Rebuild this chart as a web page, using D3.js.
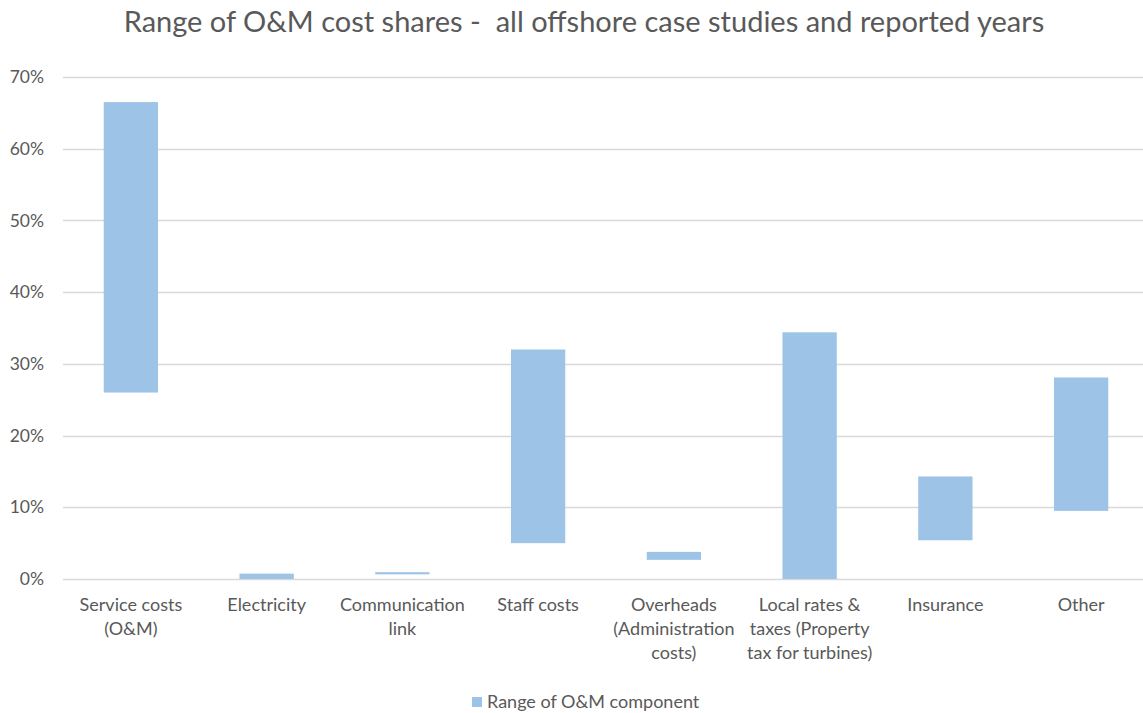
<!DOCTYPE html>
<html>
<head>
<meta charset="utf-8">
<script src="https://cdn.jsdelivr.net/npm/d3@7"></script>
<style>
  body { margin: 0; background: #fff; }
  svg { display: block; font-family: Lato, "Open Sans", sans-serif; }
</style>
</head>
<body>
<svg id="chart"></svg>
<script>
const categories = [
    ["Service costs", "(O&M)"],
    ["Electricity"],
    ["Communication", "link"],
    ["Staff costs"],
    ["Overheads", "(Administration", "costs)"],
    ["Local rates &", "taxes (Property", "tax for turbines)"],
    ["Insurance"],
    ["Other"]
];
// low / high share of each component (fraction)
const lows  = [0.260, 0.000, 0.0065, 0.050, 0.0267, 0.000, 0.054, 0.095];
const highs = [0.665, 0.0075, 0.0095, 0.320, 0.0378, 0.344, 0.143, 0.281];
const yTicks = [0, 0.1, 0.2, 0.3, 0.4, 0.5, 0.6, 0.7];

const width = 1143, height = 713;
const margin = {top: 77, right: -6, bottom: 134, left: 63};
const textColor = "#595959";
const barColor = "#9dc3e6";

const svg = d3.select("#chart")
    .attr("width", width)
    .attr("height", height);

const x = d3.scaleBand()
    .domain(d3.range(categories.length))
    .range([margin.left, width - margin.right])
    .paddingInner(0.6)
    .paddingOuter(0.3);

const y = d3.scaleLinear()
    .domain([0, 0.7])
    .range([height - margin.bottom, margin.top]);

// title
svg.append("text")
    .attr("x", 584)
    .attr("y", 32)
    .attr("text-anchor", "middle")
    .attr("fill", textColor)
    .style("font-size", "29px")
    .attr("xml:space", "preserve")
    .text("Range of O&M cost shares -  all offshore case studies and reported years");

// gridlines
svg.append("g")
    .selectAll("line")
    .data(yTicks)
    .join("line")
    .attr("x1", margin.left)
    .attr("x2", width)
    .attr("y1", d => Math.round(y(d)) + 0.5)
    .attr("y2", d => Math.round(y(d)) + 0.5)
    .attr("stroke", "#d9d9d9")
    .attr("stroke-width", 1.3);

// y axis labels
const yAxis = svg.append("g")
    .attr("transform", `translate(${margin.left - 19},0)`)
    .call(d3.axisLeft(y).tickValues(yTicks).tickFormat(d3.format(".0%")).tickSize(0));
yAxis.select(".domain").remove();
yAxis.selectAll("text")
    .attr("fill", textColor)
    .attr("x", 0)
    .style("font-size", "17.5px")
    .style("font-family", "Lato, sans-serif");

// bars (floating)
svg.append("g")
    .selectAll("rect")
    .data(d3.range(categories.length))
    .join("rect")
    .attr("x", i => x(i))
    .attr("width", x.bandwidth())
    .attr("y", i => y(highs[i]))
    .attr("height", i => Math.max(1.5, y(lows[i]) - y(highs[i])))
    .attr("fill", barColor);

// category labels
const cat = svg.append("g")
    .selectAll("text")
    .data(categories)
    .join("text")
    .attr("text-anchor", "middle")
    .attr("fill", textColor)
    .style("font-size", "18px")
    .attr("transform", (d, i) => `translate(${x(i) + x.bandwidth() / 2},${611})`);
cat.selectAll("tspan")
    .data(d => d)
    .join("tspan")
    .attr("x", 0)
    .attr("y", (d, j) => j * 24)
    .text(d => d);

// legend
const legend = svg.append("g").attr("transform", "translate(472,697)");
legend.append("rect")
    .attr("width", 10)
    .attr("height", 10)
    .attr("fill", barColor);
legend.append("text")
    .attr("x", 15)
    .attr("y", 11)
    .attr("fill", textColor)
    .style("font-size", "18px")
    .text("Range of O&M component");
</script>
</body>
</html>
